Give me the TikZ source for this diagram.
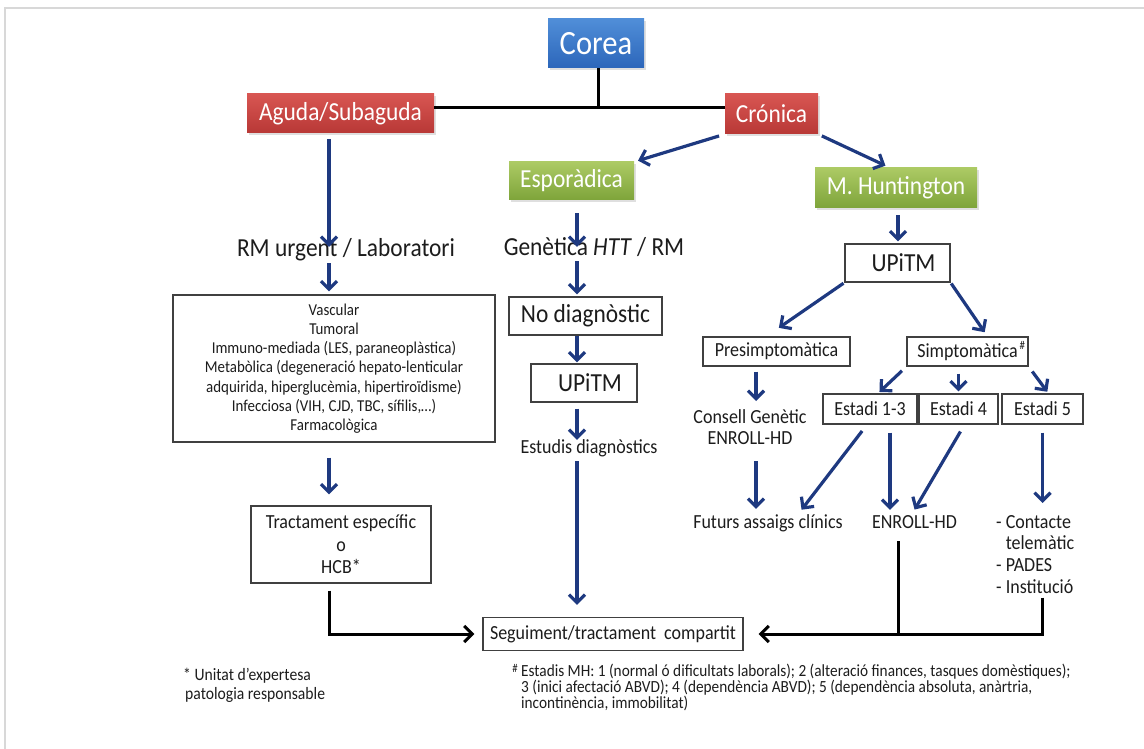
\documentclass[tikz,border=0pt]{standalone}
\usepackage{fontspec}
\setmainfont{Carlito}[FakeStretch=0.9]
\usetikzlibrary{arrows.meta,shadows}

\definecolor{navy}{RGB}{30,57,128}
\definecolor{framegray}{RGB}{216,216,216}
\definecolor{boxline}{RGB}{64,64,64}
\definecolor{ink}{RGB}{28,28,28}
\definecolor{blueT}{RGB}{80,142,216}
\definecolor{blueB}{RGB}{44,102,186}
\definecolor{redT}{RGB}{216,86,82}
\definecolor{redB}{RGB}{184,56,54}
\definecolor{greenT}{RGB}{172,202,100}
\definecolor{greenB}{RGB}{126,164,58}

\newcommand\fsz[2]{\fontsize{#1pt}{#2pt}\selectfont}

\begin{document}
\begin{tikzpicture}[x=1pt,y=-1pt,
  every node/.style={inner sep=0pt,text=ink},
  hdr/.style={rectangle,text=white,
    drop shadow={shadow xshift=1.5pt,shadow yshift=-2.5pt,opacity=0.25}},
  bluehdr/.style={hdr,top color=blueT,bottom color=blueB},
  redhdr/.style={hdr,top color=redT,bottom color=redB},
  greenhdr/.style={hdr,top color=greenT,bottom color=greenB},
  plainbox/.style={rectangle,draw=boxline,line width=1.3pt,fill=white},
  lbl/.style={anchor=base,text height=0.7em,text depth=0.22em},
  flowarrow/.style={draw=navy,line width=3.2pt,
    -{Straight Barb[length=8pt,width=16pt]},shorten <=5pt,shorten >=3pt},
  wire/.style={draw=black,line width=3pt},
  wirearrow/.style={wire,-{Straight Barb[length=8pt,width=16pt]}},
]
\useasboundingbox (0,0) rectangle (1144,749);

% outer frame
\draw[framegray,line width=2.5pt] (5,749) -- (5,8) -- (1144,8);

% column guides for the vertical connectors
\coordinate (lx) at (329,0);
\coordinate (mx) at (577,0);
\coordinate (rx) at (898,0);
\coordinate (cx) at (756,0);
\coordinate (ex) at (890,0);
\coordinate (jn) at (598,108);

% headers
\node[bluehdr,minimum width=96pt,minimum height=49pt,font=\fsz{34}{40}] (corea) at (596,43.5) {Corea};
\node[redhdr,minimum width=187pt,minimum height=39pt,font=\fsz{26}{30}] (aguda) at (340.5,113.5) {Aguda/Subaguda};
\node[redhdr,minimum width=93pt,minimum height=40pt,font=\fsz{26}{30}] (cronica) at (771.5,114) {Crónica};
\node[greenhdr,minimum width=125pt,minimum height=38pt,font=\fsz{26}{30}] (espor) at (571.5,181) {Esporàdica};
\node[greenhdr,minimum width=162pt,minimum height=40pt,font=\fsz{26}{30}] (hunt) at (896,188) {M. Huntington};

\draw[wire] (corea.south -| jn) -- (jn);
\draw[wire] (aguda.east |- jn) -- (cronica.west |- jn);
\draw[flowarrow,shorten <=6pt,shorten >=4pt] (cronica.south west) -- (espor.north east);
\draw[flowarrow,shorten <=4pt,shorten >=5pt] (cronica.south east) -- ([xshift=-6pt]hunt.north);

% acute branch
\node[lbl,font=\fsz{26}{30}] (rm) at (346,256) {RM urgent / Laboratori};
\draw[flowarrow,shorten <=6pt,shorten >=2pt] (aguda.south -| lx) -- (rm.north -| lx);
\node[plainbox,minimum width=322pt,minimum height=147pt,align=center,font=\fsz{16.6}{19.2}] (causes) at (334,368.5)
  {Vascular\\Tumoral\\Immuno-mediada (LES, paraneoplàstica)\\Metabòlica (degeneració hepato-lenticular\\adquirida, hiperglucèmia, hipertiroïdisme)\\Infecciosa (VIH, CJD, TBC, sífilis,…)\\Farmacològica};
\draw[flowarrow,shorten <=5pt,shorten >=3pt] (rm.south -| lx) -- (causes.north -| lx);
\node[plainbox,minimum width=180pt,minimum height=77pt,align=center,font=\fsz{20}{22.5}] (tract) at (341,544.5)
  {Tractament específic\\o\\HCB*};
\draw[flowarrow,shorten <=15pt,shorten >=11pt] (causes.south -| lx) -- (tract.north -| lx);

% sporadic branch
\node[lbl,font=\fsz{26}{30}] (genet) at (594,255) {Genètica \textit{HTT} / RM};
\draw[flowarrow,shorten <=13pt,shorten >=1pt] (espor.south -| mx) -- (genet.north -| mx);
\node[plainbox,minimum width=153pt,minimum height=38pt,font=\fsz{26}{30}] (nodiag) at (585.5,316) {No diagnòstic};
\draw[flowarrow,shorten <=4pt,shorten >=2pt] (genet.south -| mx) -- (nodiag.north -| mx);
\node[plainbox,minimum width=106pt,minimum height=38pt,font=\fsz{26}{30}] (upitmA) at (584,383) {\hspace*{12pt}UPiTM};
\draw[flowarrow,shorten <=0.5pt,shorten >=1pt] (nodiag.south -| mx) -- (upitmA.north -| mx);
\node[lbl,font=\fsz{20}{24}] (estud) at (589,453) {Estudis diagnòstics};
\draw[flowarrow,shorten <=6pt,shorten >=6pt] (upitmA.south -| mx) -- (estud.north -| mx);

% shared follow-up
\node[plainbox,minimum width=260pt,minimum height=33pt,font=\fsz{20}{24}] (segui) at (613,634)
  {Seguiment/tractament\hspace{4pt} compartit};
\draw[flowarrow,shorten <=6pt,shorten >=12pt] (estud.south -| mx) -- (segui.north -| mx);
\draw[wirearrow,shorten <=7pt,shorten >=8pt] (tract.south -| lx) |- (segui.west);

% Huntington branch
\node[plainbox,minimum width=105pt,minimum height=38pt,font=\fsz{26}{30}] (upitmB) at (897.5,263) {\hspace*{12pt}UPiTM};
\draw[flowarrow,shorten <=7pt,shorten >=2pt] (hunt.south -| rx) -- (upitmB.north -| rx);
\node[plainbox,minimum width=147pt,minimum height=29pt,font=\fsz{20}{24}] (presim) at (776.5,351.5) {Presimptomàtica};
\node[plainbox,minimum width=121pt,minimum height=29pt,font=\fsz{20}{24}] (simp) at (967.5,351.5)
  {Simptomàtica\rlap{\raisebox{8pt}{\fsz{12}{14}\,\#}}};
\draw[flowarrow,shorten <=1pt,shorten >=15pt] (upitmB.south west) -- ([xshift=-10pt]presim.north);
\draw[flowarrow,shorten <=1pt,shorten >=5pt] (upitmB.south east) -- ([xshift=20pt]simp.north);

\node[anchor=north,align=center,font=\fsz{20}{21}] (consell) at (750,409) {Consell Genètic\\ENROLL-HD};
\draw[flowarrow,shorten <=5pt,shorten >=8pt] (presim.south -| cx) -- (consell.north -| cx);
\node[lbl,font=\fsz{20}{24}] (futurs) at (768,528) {Futurs assaigs clínics};
\draw[flowarrow,shorten <=17pt,shorten >=12pt] (consell.south -| cx) -- (futurs.north -| cx);

\node[plainbox,minimum width=94pt,minimum height=30pt,font=\fsz{20}{24}] (estA) at (870,409) {Estadi 1-3};
\node[plainbox,minimum width=79pt,minimum height=30pt,font=\fsz{20}{24}] (estB) at (958.5,409) {Estadi 4};
\node[plainbox,minimum width=81pt,minimum height=30pt,font=\fsz{20}{24}] (estC) at (1042.5,409) {Estadi 5};
\draw[flowarrow,shorten <=6pt,shorten >=2pt] (simp.south west) -- ([xshift=8pt]estA.north);
\draw[flowarrow,shorten <=7pt,shorten >=2pt] (simp.south -| estB) -- (estB.north);
\draw[flowarrow,shorten <=6pt,shorten >=2pt] (simp.south east) -- ([xshift=6pt]estC.north);

\node[lbl,font=\fsz{20}{24}] (enroll) at (914.5,528) {ENROLL-HD};
\node[anchor=north west,align=left,font=\fsz{20}{21.7}] (care) at (996,515)
  {- Contacte\\\phantom{- }telemàtic\\- PADES\\- Institució};
\draw[flowarrow,shorten <=8pt,shorten >=14pt] ([xshift=-3pt]estA.south) -- ([xshift=25pt]futurs.north);
\draw[flowarrow,shorten <=8pt,shorten >=11pt] (estA.south -| ex) -- (enroll.north -| ex);
\draw[flowarrow,shorten <=8pt,shorten >=13pt] ([xshift=6pt]estB.south) -- ([xshift=-6.5pt]enroll.north);
\draw[flowarrow,shorten <=8pt,shorten >=12pt] (estC.south) -- (estC.south |- care.north);

\draw[wire,shorten <=11pt] ([xshift=-16.5pt]enroll.south) -- ([xshift=-16.5pt]enroll.south |- segui.east);
\draw[wirearrow,shorten <=4pt,shorten >=15pt] (care.south -| estC) |- (segui.east);

% footnotes
\node[font=\fsz{12}{14}] (hash) at (515,668) {\#};
\node[anchor=north west,align=left,font=\fsz{17}{15}] (stages) at (521,664)
  {Estadis MH: 1 (normal ó dificultats laborals); 2 (alteració finances, tasques domèstiques);\\3 (inici afectació ABVD); 4 (dependència ABVD); 5 (dependència absoluta, anàrtria,\\incontinència, immobilitat)};
\node[anchor=north west,align=left,font=\fsz{17.4}{18.5}] (unit) at (183,668)
  {* Unitat d\char39 expertesa\\\hspace*{2pt}patologia responsable};
\end{tikzpicture}
\end{document}
